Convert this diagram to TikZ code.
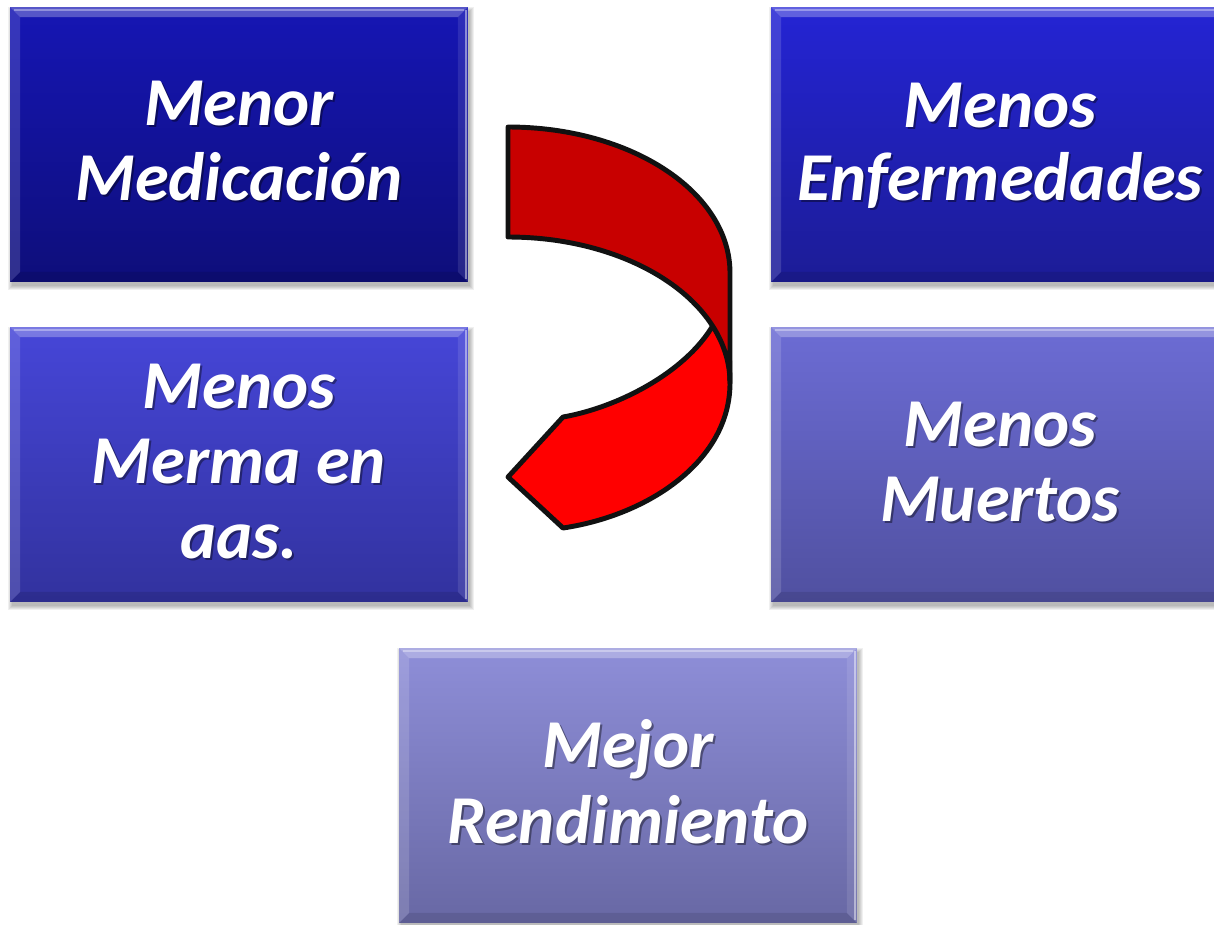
\documentclass[tikz,border=0pt]{standalone}
\usepackage{fontspec}
\setmainfont{Carlito}
\usetikzlibrary{calc}
\definecolor{bAt}{RGB}{22,22,180}
\definecolor{bAb}{RGB}{14,14,122}
\definecolor{bBt}{RGB}{36,36,212}
\definecolor{bBb}{RGB}{28,28,150}
\definecolor{bCt}{RGB}{70,70,216}
\definecolor{bCb}{RGB}{50,50,158}
\definecolor{bDt}{RGB}{108,108,212}
\definecolor{bDb}{RGB}{80,80,160}
\definecolor{bEt}{RGB}{142,142,216}
\definecolor{bEb}{RGB}{104,104,164}
\definecolor{darkband}{RGB}{200,0,0}
\definecolor{lightband}{RGB}{255,0,0}
\definecolor{outl}{RGB}{17,17,17}
\tikzset{
  box/.style={minimum width=9.16cm, minimum height=5.5cm, inner sep=0pt, outer sep=0pt},
  txt/.style={anchor=base, inner sep=0pt, text=white,
    font=\fontsize{39}{44}\selectfont\bfseries\itshape},
  tsh/.style={txt, text=black, opacity=0.4},
  band/.style={draw=outl, line width=2.8pt, line join=round},
}
\newcommand\bevelbox[5]{%
  \foreach \k in {0,...,4}{%
    \fill[black,opacity=0.06] (#2-229+2-\k,#3-137.5+4-\k) rectangle (#2+229+2+\k,#3+137.5+4+\k);
  }
  \node[box, top color=#4, bottom color=#5] (#1) at (#2,#3) {};
  \fill[white,opacity=0.28] (#1.north west) -- (#1.north east) -- ++(-10,10) -- ($(#1.north west)+(10,10)$) -- cycle;
  \fill[white,opacity=0.14] (#1.north west) -- ++(10,10) -- ($(#1.south west)+(10,-10)$) -- (#1.south west) -- cycle;
  \fill[white,opacity=0.10] (#1.north east) -- ++(-10,10) -- ($(#1.south east)+(-10,-10)$) -- (#1.south east) -- cycle;
  \fill[black,opacity=0.10] (#1.south west) -- ++(10,-10) -- ($(#1.south east)+(-10,-10)$) -- (#1.south east) -- cycle;
  \draw[white,opacity=0.35,line width=1.2pt] ($(#1.north west)+(4,3)$) -- ($(#1.north east)+(-4,3)$);
  \draw[white,opacity=0.45,line width=0.8pt] ($(#1.north east)+(-2,3)$) -- ($(#1.south east)+(-2,-3)$);
}
\newcommand\tline[4]{%
  \node[tsh] (#1s) at (#2+2,#3+2.5) {#4};
  \node[txt] (#1) at (#2,#3) {#4};
}
\begin{document}
\begin{tikzpicture}[x=0.02cm,y=-0.02cm]
\useasboundingbox (0,0) rectangle (1214,924);
\clip (0,0) rectangle (1214,924);
\fill[white] (0,0) rectangle (1214,924);

\bevelbox{bA}{239}{144.5}{bAt}{bAb}
\bevelbox{bB}{1000}{144.5}{bBt}{bBb}
\bevelbox{bC}{239}{464.5}{bCt}{bCb}
\bevelbox{bD}{1000}{464.5}{bDt}{bDb}
\bevelbox{bE}{628}{785.5}{bEt}{bEb}

\tline{tA1}{239}{125}{Menor}
\tline{tA2}{239}{200}{Medicación}
\tline{tB1}{1000}{127}{Menos}
\tline{tB2}{1000}{200}{Enfermedades}
\tline{tC1}{239}{408}{Menos}
\tline{tC2}{239}{483}{Merma en}
\tline{tC3}{239}{558}{aas.}
\tline{tD1}{1000}{446}{Menos}
\tline{tD2}{1000}{521}{Muertos}
\tline{tE1}{628}{767}{Mejor}
\tline{tE2}{628}{843}{Rendimiento}

% curved arrow
\filldraw[band, fill=lightband] (563,417) .. controls (620,407) and (690,370) .. (716,320)
  -- (729,335) -- (730,383) .. controls (730,460) and (650,515) .. (563,528)
  -- (508,477) -- cycle;
\filldraw[band, fill=darkband] (508,127) .. controls (631,127) and (730,192) .. (730,273)
  -- (730,383) .. controls (730,302) and (631,237) .. (508,237) -- cycle;
\end{tikzpicture}
\end{document}
